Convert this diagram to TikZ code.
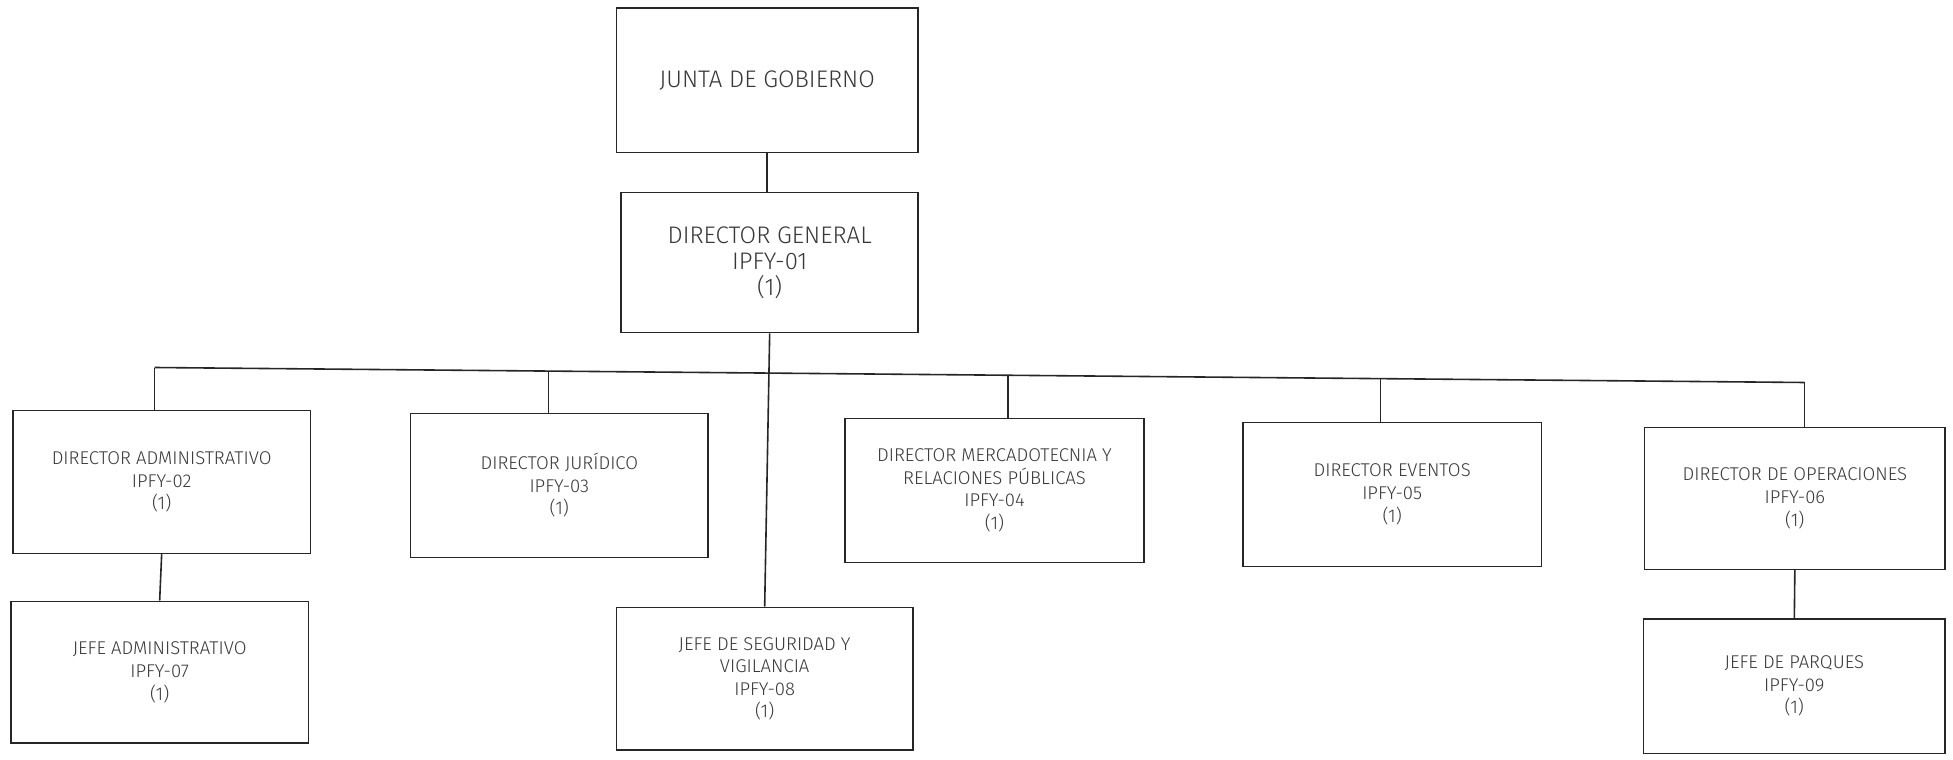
\documentclass[tikz,border=0pt]{standalone}
\usepackage{fontspec}
\setmainfont{Fira Sans}[UprightFont={* Light}]
\begin{document}
\begin{tikzpicture}[x=1pt,y=-1pt,
  every path/.style={line width=1.6pt, draw=black!85},
  orgbox/.style={draw=black!85, line width=1.6pt, align=center, inner sep=0pt,
    text=black!78, font=\fontsize{18.5}{22.6}\selectfont},
  bigbox/.style={orgbox, font=\fontsize{24}{26}\selectfont},
  link/.style={line width=1.6pt, draw=black!85}]
\useasboundingbox (0,0) rectangle (1953,759);
\fill[white] (0,0) rectangle (1953,759);

\node[bigbox, minimum width=302pt, minimum height=145pt] (junta) at (767,79.5) {JUNTA DE GOBIERNO};
\node[bigbox, minimum width=297pt, minimum height=140pt] (dg) at (769.5,262) {DIRECTOR GENERAL\\IPFY-01\\(1)};

\node[orgbox, minimum width=298pt, minimum height=143pt] (da) at (161,481.5) {DIRECTOR ADMINISTRATIVO\\IPFY-02\\(1)};
\node[orgbox, minimum width=298pt, minimum height=144pt] (dj) at (559,485) {DIRECTOR JURÍDICO\\IPFY-03\\(1)};
\node[orgbox, minimum width=299pt, minimum height=144pt] (dm) at (994.5,490) {DIRECTOR MERCADOTECNIA Y\\RELACIONES PÚBLICAS\\IPFY-04\\(1)};
\node[orgbox, minimum width=299pt, minimum height=144pt] (de) at (1392.5,494) {DIRECTOR EVENTOS\\IPFY-05\\(1)};
\node[orgbox, minimum width=301pt, minimum height=142pt] (do) at (1795.5,498) {DIRECTOR DE OPERACIONES\\IPFY-06\\(1)};

\node[orgbox, minimum width=298pt, minimum height=142pt] (ja) at (159,672) {JEFE ADMINISTRATIVO\\IPFY-07\\(1)};
\node[orgbox, minimum width=297pt, minimum height=143pt] (js) at (764.5,678.5) {JEFE DE SEGURIDAD Y\\VIGILANCIA\\IPFY-08\\(1)};
\node[orgbox, minimum width=302pt, minimum height=135pt] (jp) at (1795,686) {JEFE DE PARQUES\\IPFY-09\\(1)};

% bus
\coordinate (busL) at (154,367);
\coordinate (busJ) at (548,370.6);
\coordinate (busM) at (1008,374.8);
\coordinate (busE) at (1381,378.1);
\coordinate (busR) at (1805,382);

\draw[link] (junta.south) -- (junta.south |- dg.north);
\draw[link] (dg.south) -- (js.north);
\draw[link] (busL) -- (busR);
\draw[link] (busL) -- (busL |- da.north);
\draw[link] (busJ) -- (busJ |- dj.north);
\draw[link] (busM) -- (busM |- dm.north);
\draw[link] (busE) -- (busE |- de.north);
\draw[link] (busR) -- (busR |- do.north);
\draw[link] (da.south) -- (ja.north);
\draw[link] (do.south) -- (jp.north);
\end{tikzpicture}
\end{document}
